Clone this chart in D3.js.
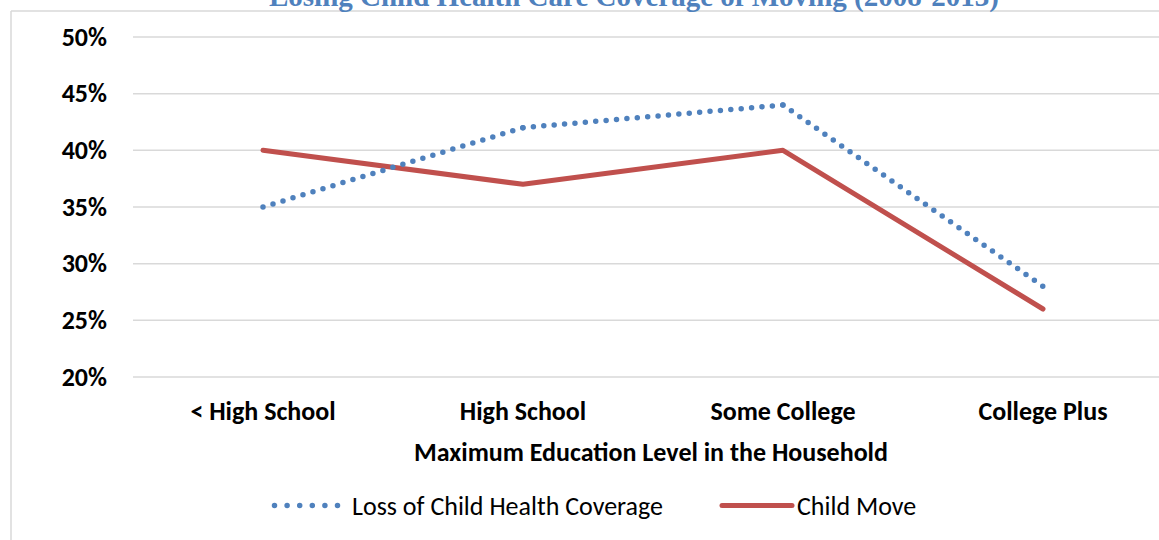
<!DOCTYPE html>
<html>
<head>
<meta charset="utf-8">
<script src="https://cdn.jsdelivr.net/npm/d3@7"></script>
<style>
  html, body { margin: 0; padding: 0; background: #fff; }
  svg { display: block; }
</style>
</head>
<body>
<svg id="chart" width="1159" height="540"></svg>
<script>
// Education categories and the two series (share of children)
const categories = ["< High School", "High School", "Some College", "College Plus"];
const lossCoverage = [0.35, 0.42, 0.44, 0.28];
const childMove = [0.40, 0.37, 0.40, 0.26];
const yTicks = [0.20, 0.25, 0.30, 0.35, 0.40, 0.45, 0.50];

const titleText = "Losing Child Health Care Coverage of Moving (2008-2013)";
const xTitle = "Maximum Education Level in the Household";
const seriesNames = ["Loss of Child Health Coverage", "Child Move"];

const svg = d3.select("#chart");
const W = 1159, H = 540;
const font = "Carlito, Calibri, Lato, 'Open Sans', sans-serif";
const fs = 26;

const plot = { left: 133, right: 1173, top: 37, bottom: 377 };

const x = d3.scaleBand().domain(categories).range([plot.left, plot.right]);
const y = d3.scaleLinear().domain([0.20, 0.50]).range([plot.bottom, plot.top]);

// Chart frame
svg.append("line").attr("x1", 11).attr("x2", W).attr("y1", 11).attr("y2", 11)
  .attr("stroke", "#d9d9d9").attr("stroke-width", 1.5);
svg.append("line").attr("x1", 11).attr("x2", 11).attr("y1", 11).attr("y2", H)
  .attr("stroke", "#d9d9d9").attr("stroke-width", 1.5);

// Title, partially cut off at the top edge
svg.append("text")
  .attr("x", 634).attr("y", 5.5)
  .attr("text-anchor", "middle")
  .attr("font-family", "'Liberation Serif', 'Times New Roman', serif")
  .attr("font-weight", "bold")
  .attr("font-size", 29)
  .attr("fill", "#4f81bd")
  .text(titleText);

// Gridlines
svg.append("g").selectAll("line").data(yTicks).join("line")
  .attr("x1", plot.left).attr("x2", plot.right)
  .attr("y1", d => y(d)).attr("y2", d => y(d))
  .attr("stroke", "#d9d9d9").attr("stroke-width", 1.5);

// Y axis labels
const yAxis = d3.axisLeft(y).tickValues(yTicks).tickFormat(d3.format(".0%")).tickSize(0).tickPadding(26);
const gy = svg.append("g").attr("transform", `translate(${plot.left},0)`).call(yAxis);
gy.select(".domain").remove();
gy.selectAll("text")
  .attr("font-family", font).attr("font-weight", "bold")
  .attr("font-size", fs).attr("fill", "#000");

// X axis labels
const xAxis = d3.axisBottom(x).tickSize(0).tickPadding(0);
const gx = svg.append("g").attr("transform", `translate(0,${plot.bottom})`).call(xAxis);
gx.select(".domain").remove();
gx.selectAll("text")
  .attr("dy", null).attr("y", 43)
  .attr("font-family", font).attr("font-weight", "bold")
  .attr("font-size", fs).attr("fill", "#000");

// X axis title
svg.append("text")
  .attr("x", 651).attr("y", 461)
  .attr("text-anchor", "middle")
  .attr("font-family", font).attr("font-weight", "bold")
  .attr("font-size", fs).attr("fill", "#000")
  .text(xTitle);

const cx = d => x(d) + x.bandwidth() / 2;
const line = d3.line().x(d => cx(d.cat)).y(d => y(d.v));

const lossData = categories.map((c, i) => ({ cat: c, v: lossCoverage[i] }));
const moveData = categories.map((c, i) => ({ cat: c, v: childMove[i] }));

// Child Move: solid red line
svg.append("path").datum(moveData)
  .attr("d", line)
  .attr("fill", "none")
  .attr("stroke", "#c0504d")
  .attr("stroke-width", 5)
  .attr("stroke-linejoin", "round")
  .attr("stroke-linecap", "round");

// Loss of coverage: round dots, one segment at a time so a dot sits on every point
const dotG = svg.append("g");
d3.pairs(lossData).forEach(([a, b]) => {
  const seg = dotG.append("path").datum([a, b])
    .attr("d", line)
    .attr("fill", "none")
    .attr("stroke", "#4f81bd")
    .attr("stroke-width", 5.5)
    .attr("stroke-linecap", "round");
  const len = seg.node().getTotalLength();
  const gap = len / Math.max(1, Math.round(len / 10.3)) - 0.01;
  seg.attr("stroke-dasharray", `0 ${gap}`);
});

// Legend
const legY = 505.5;
svg.append("line")
  .attr("x1", 274.5).attr("x2", 337.6).attr("y1", legY).attr("y2", legY)
  .attr("stroke", "#4f81bd").attr("stroke-width", 5.5)
  .attr("stroke-dasharray", "0 12.6").attr("stroke-linecap", "round");
svg.append("text")
  .attr("x", 352).attr("y", legY + 9)
  .attr("font-family", font).attr("font-size", fs).attr("fill", "#000")
  .text(seriesNames[0]);

svg.append("line")
  .attr("x1", 722).attr("x2", 792).attr("y1", legY).attr("y2", legY)
  .attr("stroke", "#c0504d").attr("stroke-width", 5)
  .attr("stroke-linecap", "round");
svg.append("text")
  .attr("x", 797).attr("y", legY + 9)
  .attr("font-family", font).attr("font-size", fs).attr("fill", "#000")
  .text(seriesNames[1]);
</script>
</body>
</html>
